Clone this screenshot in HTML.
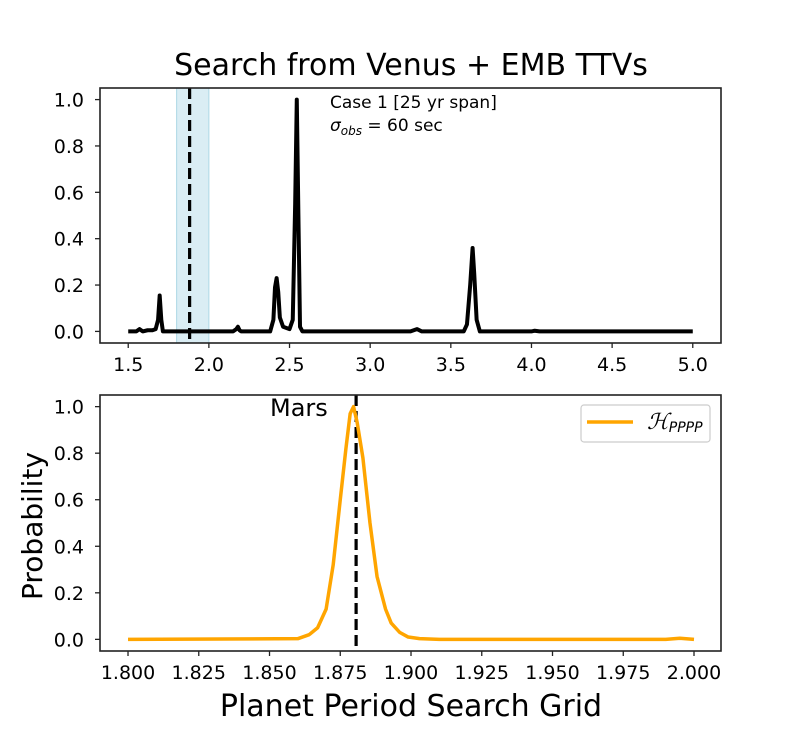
<!DOCTYPE html>
<html><head><meta charset="utf-8"><style>
body{margin:0;background:#fff}
svg{display:block;font-family:"DejaVu Sans","Liberation Sans",sans-serif}
</style></head><body>
<svg id="fig" width="801" height="731" viewBox="0 0 801 731">
<rect width="801" height="731" fill="#fff"/>
<text x="411" y="75" font-size="30" text-anchor="middle">Search from Venus + EMB TTVs</text>
<g id="top"></g>
<g id="bot"></g>
<text transform="translate(42,526) rotate(-90)" font-size="28" text-anchor="middle">Probability</text>
<text x="411" y="716" font-size="30" text-anchor="middle">Planet Period Search Grid</text>
</svg>
<script>
const topX=[1.5,1.55,1.57,1.59,1.62,1.65,1.67,1.685,1.695,1.705,1.715,2.15,2.17,2.18,2.19,2.2,2.38,2.4,2.41,2.42,2.43,2.44,2.46,2.5,2.52,2.535,2.545,2.555,2.565,2.58,3.25,3.29,3.32,3.58,3.6,3.62,3.635,3.645,3.66,3.68,4.0,4.02,4.05,5.0];
const topY=[0,0,0.01,0,0.005,0.005,0.01,0.05,0.155,0.05,0,0,0.01,0.02,0.005,0,0,0.05,0.19,0.23,0.17,0.06,0.02,0.01,0.05,0.55,1.0,0.5,0.02,0,0,0.01,0,0,0.03,0.2,0.36,0.25,0.05,0,0,0.003,0,0];
const botX=[1.8,1.86,1.864,1.867,1.87,1.8725,1.875,1.877,1.8785,1.8797,1.881,1.883,1.8855,1.888,1.891,1.893,1.896,1.899,1.903,1.91,1.99,1.995,2.0];
const botY=[0,0.003,0.02,0.05,0.13,0.32,0.6,0.82,0.97,1.0,0.93,0.78,0.5,0.27,0.13,0.07,0.03,0.01,0.003,0,0,0.005,0];
const topXTicks=[1.5,2.0,2.5,3.0,3.5,4.0,4.5,5.0];
const botXTicks=[1.8,1.825,1.85,1.875,1.9,1.925,1.95,1.975,2.0];
const yTicks=[0,0.2,0.4,0.6,0.8,1.0];
const marsPeriod=1.8806;
const NS='http://www.w3.org/2000/svg';
function mk(p,t,a){const e=document.createElementNS(NS,t);for(const k in a)e.setAttribute(k,a[k]);p.appendChild(e);return e;}
function panel(g,L,R,T,B,x0,x1,xTicks,fmt){
  const sx=v=>L+(v-x0)/(x1-x0)*(R-L);
  const sy=v=>B-(v+0.05)/1.1*(B-T);
  return {sx,sy,frame(){
    const f=mk(g,'rect',{x:L,y:T,width:R-L,height:B-T,fill:'none',stroke:'#222','stroke-width':1.6});
    
    xTicks.forEach(v=>{const x=sx(v);
      const l=mk(g,'line',{x1:x,x2:x,y1:B,y2:B+5,stroke:'#222','stroke-width':1.3});
      
      const t=mk(g,'text',{x:x,y:B+28,'font-size':19,'text-anchor':'middle'});t.textContent=fmt(v);
      });
    yTicks.forEach(v=>{const y=sy(v);
      const l=mk(g,'line',{x1:L-5,x2:L,y1:y,y2:y,stroke:'#222','stroke-width':1.3});
      
      const t=mk(g,'text',{x:L-16,y:y+7,'font-size':19,'text-anchor':'end'});t.textContent=v.toFixed(1);
      });
  }};
}
// top panel
const gt=document.getElementById('top');
const P1=panel(gt,100,721,88,343,1.325,5.175,topXTicks,v=>v.toFixed(1));
const band=mk(gt,'rect',{x:P1.sx(1.8),y:88,width:P1.sx(2.0)-P1.sx(1.8),height:255,fill:'#add8e6','fill-opacity':0.45,stroke:'#add8e6'});

const d1=mk(gt,'line',{x1:P1.sx(marsPeriod),x2:P1.sx(marsPeriod),y1:88,y2:343,stroke:'#000','stroke-width':3.2,'stroke-dasharray':'11,5'});

const p1=mk(gt,'polyline',{points:topX.map((x,i)=>P1.sx(x)+','+P1.sy(topY[i])).join(' '),fill:'none',stroke:'#000','stroke-width':4,'stroke-linejoin':'round'});

P1.frame();
const a1=mk(gt,'text',{x:330,y:108,'font-size':17});a1.textContent='Case 1 [25 yr span]';

const a2=mk(gt,'text',{x:330,y:131,'font-size':17});a2.innerHTML='<tspan font-style="italic">σ</tspan><tspan font-size="12" font-style="italic" dy="4">obs</tspan><tspan dy="-4"> = 60 sec</tspan>';

// bottom panel
const gb=document.getElementById('bot');
const P2=panel(gb,100,721,395,651,1.7901,2.00954,botXTicks,v=>v.toFixed(3));
const d2=mk(gb,'line',{x1:P2.sx(marsPeriod),x2:P2.sx(marsPeriod),y1:395,y2:651,stroke:'#000','stroke-width':3.2,'stroke-dasharray':'11,5'});

const p2=mk(gb,'polyline',{points:botX.map((x,i)=>P2.sx(x)+','+P2.sy(botY[i])).join(' '),fill:'none',stroke:'#ffa500','stroke-width':3.5,'stroke-linejoin':'round'});

P2.frame();
const m=mk(gb,'text',{x:270,y:416,'font-size':24});m.textContent='Mars';

const lg=mk(gb,'g',{});

mk(lg,'rect',{x:581,y:405,width:129,height:37,rx:3,fill:'#fff',stroke:'#ccc','stroke-width':1.2});
const ll=mk(lg,'line',{x1:587,x2:633,y1:422,y2:422,stroke:'#ffa500','stroke-width':3.5});

const lt=mk(lg,'text',{x:647,y:429,'font-size':18});lt.innerHTML='<tspan font-family="Liberation Serif,serif" font-style="italic" font-size="22">ℋ</tspan><tspan font-style="italic" font-size="14" dy="3">PPPP</tspan>';

</script>
</body></html>
